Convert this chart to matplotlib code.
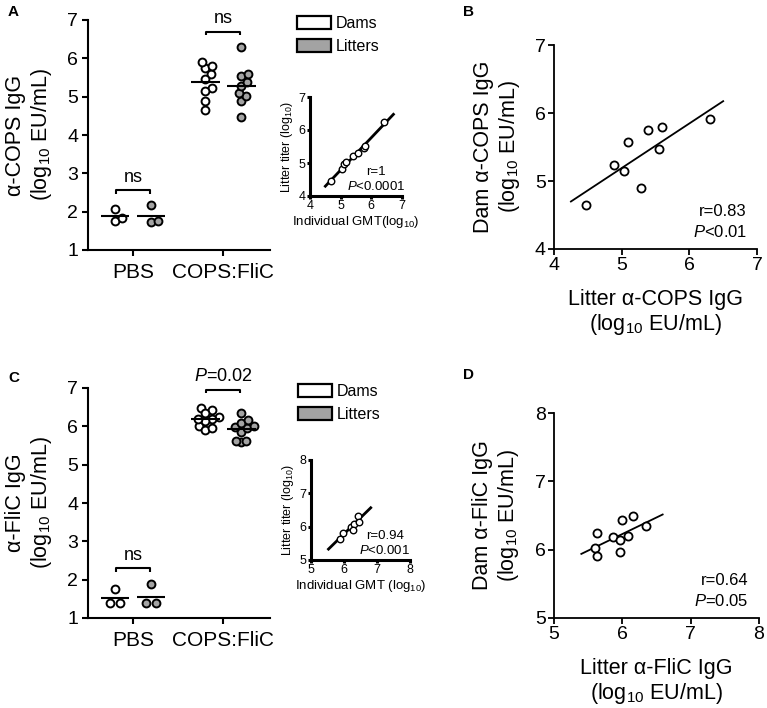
import numpy as np
import matplotlib
matplotlib.use('Agg')
import matplotlib.pyplot as plt
from matplotlib.patches import Patch

plt.rcParams['font.family'] = ['Liberation Sans', 'DejaVu Sans']
plt.rcParams['mathtext.fontset'] = 'custom'
plt.rcParams['mathtext.rm'] = 'Liberation Sans'
plt.rcParams['mathtext.it'] = 'Liberation Sans:italic'

# ---------------- data ----------------
groups = ['PBS', 'COPS:FliC']
hues = ['Dams', 'Litters']

# Panel A (anti-COPS IgG, log10 EU/mL)
a_pbs_dams = [2.08, 1.75, 1.83]
a_pbs_litters = [2.18, 1.73, 1.76]
# Panel B pairs (also the COPS:FliC groups of panel A)
b_litter = [4.47, 4.885, 5.03, 5.09, 5.29, 5.39, 5.55, 5.60, 6.30]
b_dam = [4.65, 5.23, 5.15, 5.58, 4.89, 5.75, 5.47, 5.79, 5.91]
# Inset A: individual GMT vs litter titer
ia_gmt = [4.70, 5.05, 5.12, 5.18, 5.41, 5.57, 5.75, 5.80, 6.42]
ia_litter = [4.46, 4.83, 4.97, 5.03, 5.21, 5.30, 5.45, 5.52, 6.24]

# Panel C (anti-FliC IgG)
c_pbs_dams = [1.75, 1.39, 1.39]
c_pbs_litters = [1.88, 1.39, 1.39]
# Panel D pairs (also the COPS:FliC groups of panel C)
d_litter = [5.60, 5.63, 5.63, 5.86, 5.96, 5.97, 6.00, 6.09, 6.16, 6.34]
d_dam = [6.02, 5.91, 6.24, 6.19, 5.96, 6.14, 6.43, 6.20, 6.49, 6.34]
# Inset C
ic_gmt = [5.87, 5.96, 6.21, 6.29, 6.27, 6.42, 6.44]
ic_litter = [5.62, 5.82, 6.00, 6.08, 5.90, 6.32, 6.15]

GRAY = '#a3a3a3'
W, H = 767, 708
fig = plt.figure(figsize=(W / 100, H / 100), dpi=100)


def px_axes(x0, y0, x1, y1):
    """axes from pixel box (left, top, right, bottom)"""
    return fig.add_axes([x0 / W, 1 - y1 / H, (x1 - x0) / W, (y1 - y0) / H])


def style_axes(ax, lw, tsize, tlen=4, pad=3):
    for s in ['top', 'right']:
        ax.spines[s].set_visible(False)
    for s in ['left', 'bottom']:
        ax.spines[s].set_linewidth(lw)
    ax.tick_params(width=lw, length=tlen, labelsize=tsize, direction='out', pad=pad)


def bracket(ax, x1, x2, y, h, text, size):
    ax.plot([x1, x1, x2, x2], [y - h, y, y, y - h], color='k', lw=1.5,
            clip_on=False, solid_capstyle='butt')
    ax.text((x1 + x2) / 2, y + 0.12, text, ha='center', va='bottom',
            fontsize=size, clip_on=False)


def beeswarm(vals, sx, sy, dmin, tie_gap):
    """horizontal offsets (data units) so that markers barely overlap"""
    v = np.asarray(vals, float)
    off = np.zeros(len(v))
    placed = []
    cands = [0.0]
    for k in range(1, 80):
        cands += [k * 0.5, -k * 0.5]
    for i in np.argsort(v, kind='stable'):
        y = v[i] * sy
        for c in cands:
            if all((c - px) ** 2 + (y - py) ** 2 >= dmin ** 2 for px, py in placed):
                break
        placed.append((c, y))
        off[i] = c
    # exact ties: spread symmetrically
    for val in np.unique(v):
        idx = np.where(v == val)[0]
        if len(idx) > 1:
            for j, i in enumerate(idx):
                off[i] = (j - (len(idx) - 1) / 2) * tie_gap
    return off / sx


def dot_panel(ax, pbs_d, pbs_l, cf_d, cf_l, ylabel, brackets):
    ax.set_xlim(-0.5, 1.52)
    ax.set_ylim(1, 7)
    bb = ax.get_window_extent()
    sx = bb.width / 2.02
    sy = bb.height / 6.0
    vals = [pbs_d, pbs_l, cf_d, cf_l]
    gidx = [0, 0, 1, 1]
    hl = [0, 1, 0, 1]
    offs = [-0.2, 0.2]
    for v, g, h in zip(vals, gidx, hl):
        xc = g + offs[h]
        xs = xc + beeswarm(v, sx, sy, 7.0, 10.0)
        ax.scatter(xs, v, s=32, facecolor='white' if h == 0 else GRAY,
                   edgecolor='black', lw=1.4, zorder=3)
        ax.hlines(np.mean(v), xc - 0.16, xc + 0.16, color='k', lw=1.5, zorder=5)
    ax.set_yticks(range(1, 8))
    ax.set_xticks([0, 1])
    style_axes(ax, 1.5, 14)
    ax.set_xticklabels(groups, fontsize=15)
    ax.set_ylabel(ylabel, fontsize=15.5, linespacing=1.15, va='center')
    ax.yaxis.set_label_coords(-0.32, 0.5)
    ax.tick_params(axis='x', pad=5)
    for (gi, y, t) in brackets:
        bracket(ax, gi - 0.19, gi + 0.19, y, 0.1, t, 13)


def corr_panel(ax, x, y, lo, hi, xlabel, ylabel, rtxt, ptxt, pad_lo, pad_hi):
    ax.scatter(x, y, s=34, facecolor='white', edgecolor='black', lw=1.3, zorder=3)
    m, b = np.polyfit(x, y, 1)
    xx = np.array([min(x) - pad_lo, max(x) + pad_hi])
    ax.plot(xx, m * xx + b, color='k', lw=1.3, zorder=2)
    ax.set_xlim(lo, hi)
    ax.set_ylim(lo, hi)
    ax.set_xticks(range(lo, hi + 1))
    ax.set_yticks(range(lo, hi + 1))
    style_axes(ax, 1.3, 14, pad=2)
    ax.set_xlabel(xlabel, fontsize=15.5, linespacing=1.1, va='top')
    ax.set_ylabel(ylabel, fontsize=15.5, linespacing=1.15, va='center')
    ax.yaxis.set_label_coords(-0.28, 0.5)
    ax.xaxis.set_label_coords(0.5, -0.195)
    ax.text(0.95, 0.185, rtxt, transform=ax.transAxes, ha='right', va='center', fontsize=12)
    ax.text(0.95, 0.085, ptxt, transform=ax.transAxes, ha='right', va='center', fontsize=12)


def inset_panel(ax, x, y, lo, hi, xlabel, rtxt, ptxt, tx, pad_lo, pad_hi):
    ax.scatter(x, y, s=22, facecolor='white', edgecolor='black', lw=1.0, zorder=3)
    m, b = np.polyfit(x, y, 1)
    xx = np.array([min(x) - pad_lo, max(x) + pad_hi])
    ax.plot(xx, m * xx + b, color='k', lw=2.0, zorder=2)
    ax.set_xlim(lo, hi)
    ax.set_ylim(lo, hi)
    ax.set_xticks(range(lo, hi + 1))
    ax.set_yticks(range(lo, hi + 1))
    style_axes(ax, 2.2, 9, tlen=2, pad=1)
    ax.set_xlabel(xlabel, fontsize=9.5, labelpad=1)
    ax.set_ylabel('Litter titer (log$_{10}$)', fontsize=9, labelpad=3)
    ax.text(tx, 0.24, rtxt, transform=ax.transAxes, ha='center', va='center', fontsize=9.5)
    ax.text(tx, 0.095, ptxt, transform=ax.transAxes, ha='center', va='center', fontsize=9.5)


# ---------- Panel A ----------
axA = px_axes(88, 20, 270, 250)
dot_panel(axA, a_pbs_dams, a_pbs_litters, b_dam, b_litter,
          '\u03b1-COPS IgG\n(log$_{10}$ EU/mL)',
          [(0, 2.56, 'ns'), (1, 6.70, 'ns')])
insA = px_axes(310, 97, 402, 196)
inset_panel(insA, ia_gmt, ia_litter, 4, 7, 'Individual GMT(log$_{10}$)',
            'r=1', '$P$<0.0001', 0.72, 0.2, 0.3)

# ---------- Panel B ----------
axB = px_axes(554, 45, 757, 249)
corr_panel(axB, b_litter, b_dam, 4, 7,
           'Litter \u03b1-COPS IgG\n(log$_{10}$ EU/mL)',
           'Dam \u03b1-COPS IgG\n(log$_{10}$ EU/mL)', 'r=0.83', '$P$<0.01', 0.22, 0.2)

# ---------- Panel C ----------
axC = px_axes(88, 388, 270, 618)
dot_panel(axC, c_pbs_dams, c_pbs_litters, d_dam, d_litter,
          '\u03b1-FliC IgG\n(log$_{10}$ EU/mL)',
          [(0, 2.30, 'ns'), (1, 6.96, '$P$=0.02')])
insC = px_axes(311, 460, 410, 560)
inset_panel(insC, ic_gmt, ic_litter, 5, 8, 'Individual GMT (log$_{10}$)',
            'r=0.94', '$P$<0.001', 0.745, 0.34, 0.37)

# ---------- Panel D ----------
axD = px_axes(554, 413, 759, 618)
corr_panel(axD, d_litter, d_dam, 5, 8,
           'Litter \u03b1-FliC IgG\n(log$_{10}$ EU/mL)',
           'Dam \u03b1-FliC IgG\n(log$_{10}$ EU/mL)', 'r=0.64', '$P$=0.05', 0.2, 0.25)

# ---------- legends ----------
def add_legend(x, y):
    handles = [Patch(facecolor='white', edgecolor='black', lw=1.6),
               Patch(facecolor=GRAY, edgecolor='black', lw=1.6)]
    fig.legend(handles, hues, loc='upper left', bbox_to_anchor=(x / W, 1 - y / H),
               frameon=False, fontsize=11.5, handlelength=2.1, handleheight=0.85,
               handletextpad=0.35, labelspacing=0.5, borderaxespad=0, borderpad=0)

add_legend(297, 16)
add_legend(298, 384)

# ---------- panel letters ----------
for t, x, y in [('A', 8, 12), ('B', 463, 12), ('C', 8, 378), ('D', 463, 375)]:
    fig.text(x / W, 1 - y / H, t, fontsize=11, fontweight='bold', ha='left', va='center')

fig.savefig('out.png', dpi=100)
